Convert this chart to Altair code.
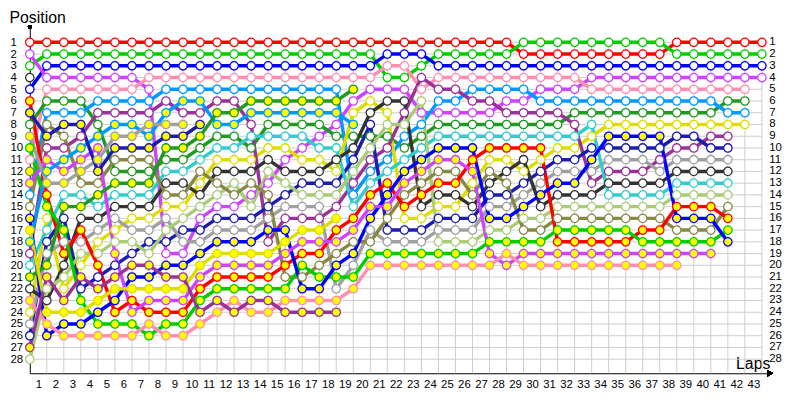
import altair as alt
import pandas as pd

# ---- driver identities (colour groups) ----
drivers = ["R1", "G1", "B1", "V1", "P1", "DG1", "S1", "Y1", "PU1", "DB1", "GR1", "DK1", "C1", "LG1",
           "O1", "R2", "G2", "B2", "V2", "P2", "S2", "DG2", "Y2", "PU2", "GR2", "DB2", "DK2", "O2"]
line_colors = ["#FF0000", "#00CC00", "#0000FF", "#CC44FF", "#FF8FB0", "#229922", "#0099FF", "#DDDD00",
               "#993399", "#1C1CAE", "#A0A0A0", "#333333", "#33CCCC", "#AACC77",
               "#888844", "#FF0000", "#00CC00", "#0000FF", "#CC44FF", "#FF8FB0", "#0099FF", "#229922",
               "#DDDD00", "#993399", "#A0A0A0", "#1C1CAE", "#333333", "#888844"]
marker_fills = ["#FFFFFF"] * 15 + ["#FFFF00"] * 10 + ["#FFFF00", "#FFFFFF", "#FFFF00"]

# ---- positions per lap (lap 0 = grid) ----
pos_R1 = [1,1,1,1,1,1,1,1,1,1, 1,1,1,1,1,1,1,1,1,1, 1,1,1,1,1,1,1,1,1, 2,2,2,2,2,2,2,2,2, 1,1,1,1,1,1]
pos_G1 = [3,2,2,2,2,2,2,2,2,2, 2,2,2,2,2,2,2,2,2,2, 2,4,4,3,2,2,2,2,2, 1,1,1,1,1,1,1,1,1, 2,2,2,2,2,2]
pos_B1 = [5,3,3,3,3,3,3,3,3,3, 3,3,3,3,3,3,3,3,3,3, 3,2,2,2,3,3,3,3,3,3, 3,3,3,3,3,3,3,3,3,3, 3,3,3,3]
pos_V1 = [2,4,4,4,4,4,4,5,19,19, 16,15,15,14,13,11,10,9,8,6, 5,5,5,7,7,7,7,7,6,6, 5,5,5,4,4,4,4,4,4,4, 4,4,4,4]
pos_P1 = [11,5,5,5,5,5,5,4,4,4, 4,4,4,4,4,4,4,4,4,4, 4,3,3,5,4,4,4,4,4,4, 4,4,4,5,5,5,5,5,5,5, 5,5,5]
pos_DG1 = [8,6,6,6,8,12,12,12,11,11, 10,9,9,10,8,8,8,8,9,9, 9,9,10,9,8,8,8,8,8,8, 8,8,7,7,7,7,7,7,7,7, 7,6,6]
pos_S1 = [14,7,7,7,6,6,6,6,5,5, 5,5,5,5,5,5,5,5,5,14, 12,11,9,8,6,6,5,5,5,5, 6,6,6,6,6,6,6,6,6,6, 6,7,7]
pos_Y1 = [24,16,22,20,18,17,16,16,15,15, 13,11,11,11,10,10,11,11,12,7, 6,7,16,16,15,15,13,11,11,12, 11,10,10,9,8,8,8,8,8,8, 8,8,8]
pos_PU1 = [19,10,10,9,7,7,7,7,6,7, 7,6,6,8,18,16,16,16,15,13, 11,10,7,4,5,5,6,6,7,7, 7,7,8,13,12,12,12,11,10,10, 9,9]
pos_DB1 = [26,18,16,22,21,20,19,18,18,17, 17,16,16,16,15,14,13,13,13,11, 8,17,17,17,16,16,16,14,14,13, 12,11,11,10,10,10,10,10,9,9, 10,10]
pos_GR1 = [25,19,18,18,17,16,17,17,16,18, 18,17,17,17,16,15,15,15,22,20, 17,18,18,18,17,17,17,15,15,14, 13,12,12,12,11,11,11,12,11,11, 11,11]
pos_DK1 = [22,23,20,16,16,15,15,15,13,13, 14,12,12,12,11,12,12,12,11,10, 7,6,6,15,14,14,15,13,12,11, 15,14,14,14,13,13,13,13,12,12, 12,12]
pos_C1 = [20,17,14,14,15,14,14,14,12,12, 11,10,10,9,9,9,9,10,10,15, 13,12,11,10,9,9,9,9,9,9, 9,9,9,8,14,14,14,14,13,13, 13,13]
pos_LG1 = [28,22,21,19,19,18,18,19,17,16, 15,14,13,15,12,13,14,14,14,12, 10,8,8,6,18,18,18,17,17,16, 16,15,15,15,15,15,15,15,14,14, 14,14]
pos_O1 = [15,8,9,13,13,11,11,11,14,14, 12,13,14,13,14,21,21,20,19,18, 18,16,14,13,12,12,14,12,13,17, 17,16,16,16,16,16,16,16,17,17, 17,15]
pos_R2 = [6,14,19,17,20,24,23,24,24,24, 22,21,21,21,21,20,19,19,17,16, 14,13,15,14,13,13,11,10,10,10, 10,18,18,18,18,18,17,17,15,15, 15,16]
pos_G2 = [10,15,17,23,25,25,25,26,25,25, 23,22,22,22,22,22,20,21,21,21, 19,19,19,19,19,19,19,18,18,18, 18,17,17,17,17,17,18,18,18,18, 18,17]
pos_B2 = [16,26,25,25,24,23,21,21,20,20, 19,18,18,18,17,17,22,22,20,19, 16,14,12,11,10,10,10,16,16,15, 14,13,13,11,9,9,9,9,16,16, 16,18]
pos_V2 = [13,11,12,11,10,19,24,23,23,23, 21,20,20,20,20,19,18,18,18,17, 15,15,13,12,11,11,12,19,20,19, 19,19,19,19,19,19,19,19,19,19, 19]
pos_P2 = [23,25,26,26,26,26,26,25,26,26, 25,24,23,24,24,23,23,23,23,22, 20,20,20,20,20,20,20,20,19,20, 20,20,20,20,20,20,20,20,20]
pos_S2 = [18,12,11,10,9,8,8,9,7,6, 6,8,8,7,7,7,7,7,7,8]
pos_DG2 = [21,20,15,15,14,13,13,13,10,10, 9,7,7,6,6,6,6,6,6,5]
pos_Y2 = [17,24,24,24,23,22,22,22,22,22, 20,19,19,19,19,18,17,17,16]
pos_PU2 = [27,21,23,21,22,21,20,20,21,21, 24,23,24,23,23,24,24,24,24]
pos_GR2 = [9,13,13,12,11,9,9,8,8,8]
pos_DB2 = [7,9,8,8,12,10,10,10,9,9,8]
pos_DK2 = [4]
pos_O2 = [12]

all_positions = [pos_R1, pos_G1, pos_B1, pos_V1, pos_P1, pos_DG1, pos_S1, pos_Y1, pos_PU1, pos_DB1,
                 pos_GR1, pos_DK1, pos_C1, pos_LG1, pos_O1, pos_R2, pos_G2, pos_B2, pos_V2, pos_P2,
                 pos_S2, pos_DG2, pos_Y2, pos_PU2, pos_GR2, pos_DB2, pos_DK2, pos_O2]

lap_labels = list(range(1, 44))
position_labels = list(range(1, 29))

rows = []
for k, (d, plist) in enumerate(zip(drivers, all_positions)):
    for lap, p in enumerate(plist):
        rows.append({"driver": d, "rank": len(drivers) - k, "lap": lap, "pos": p,
                     "col": line_colors[k], "fillc": marker_fills[k]})
df = pd.DataFrame(rows)

W, H = 748, 350
FONT = "Liberation Sans"
xs = alt.Scale(domain=[0, 43.488], nice=False, zero=False)
ys = alt.Scale(domain=[-0.325, 29.2], nice=False, zero=False, reverse=True)

xaxis = alt.Axis(values=[v - 0.5 for v in lap_labels], labelExpr="datum.value + 0.5",
                 ticks=False, grid=False, domainColor="black", domainWidth=1,
                 labelFont=FONT, labelFontSize=11.5, labelColor="black", labelPadding=5,
                 labelOverlap=False, labelFlush=False, labelBound=False,
                 title="Laps", titleFont=FONT, titleFontSize=16, titleFontWeight="normal",
                 titleColor="black", titleX=713, titleY=-5, titleAlign="left",
                 titleBaseline="alphabetic", titleAnchor="start")
yaxis = alt.Axis(values=position_labels, ticks=False, grid=False, domainColor="black", domainWidth=1,
                 labelFont=FONT, labelFontSize=11.5, labelColor="black", labelAlign="left",
                 labelBaseline="middle", labelPadding=20, labelOverlap=False, labelFlush=False,
                 labelBound=False,
                 title="Position", titleFont=FONT, titleFontSize=16, titleFontWeight="normal",
                 titleColor="black", titleAngle=0, titleX=-21, titleY=-4, titleAlign="left",
                 titleBaseline="alphabetic", titleAnchor="start")

hgrid_df = pd.DataFrame({"pos": position_labels, "lap": [0] * 28, "lap_end": [43] * 28})
vgrid_df = pd.DataFrame({"lap": lap_labels, "pos": [1] * 43, "pos_end": [29.2] * 43})
label_df = pd.DataFrame({"pos": position_labels, "txt": [str(p) for p in position_labels]})

hgrid = alt.Chart(hgrid_df).mark_rule(color="#CCCCCC", strokeWidth=1).encode(
    x=alt.X("lap:Q", scale=xs, axis=xaxis), x2="lap_end:Q",
    y=alt.Y("pos:Q", scale=ys, axis=yaxis))
vgrid = alt.Chart(vgrid_df).mark_rule(color="#CCCCCC", strokeWidth=1).encode(
    x=alt.X("lap:Q", scale=xs, axis=xaxis),
    y=alt.Y("pos:Q", scale=ys, axis=yaxis), y2="pos_end:Q")

lines = alt.Chart(df).mark_line(strokeWidth=3.5, strokeJoin="round").encode(
    x=alt.X("lap:Q", scale=xs, axis=xaxis),
    y=alt.Y("pos:Q", scale=ys, axis=yaxis),
    detail="driver:N",
    color=alt.Color("col:N", scale=None),
    order="lap:Q")

points = alt.Chart(df).mark_point(filled=True, shape="circle", size=72, strokeWidth=1.3,
                                  opacity=1, fillOpacity=1).encode(
    x=alt.X("lap:Q", scale=xs, axis=xaxis),
    y=alt.Y("pos:Q", scale=ys, axis=yaxis),
    fill=alt.Fill("fillc:N", scale=None),
    stroke=alt.Stroke("col:N", scale=None))

right_labels = alt.Chart(label_df).mark_text(align="left", baseline="middle", font=FONT,
                                             fontSize=11.5, color="black").encode(
    x=alt.value(747),
    y=alt.Y("pos:Q", scale=ys, axis=yaxis),
    text="txt:N")

arrow = alt.Chart(label_df).mark_point(shape="triangle-right", filled=True, color="black",
                                       size=40, opacity=1).encode(
    x=alt.value(W), y=alt.value(H))
top_dot = alt.Chart(label_df).mark_point(shape="circle", filled=True, color="black",
                                         size=14, opacity=1).encode(
    x=alt.value(0), y=alt.value(0))

chart = alt.layer(hgrid, vgrid, lines, points, right_labels, arrow, top_dot).properties(
    width=W, height=H,
    autosize=alt.AutoSizeParams(type="none"),
    padding={"left": 22, "top": 17, "right": 22, "bottom": 23},
    background="white",
).configure_view(stroke=None)

chart.save("out.html", embed_options={"renderer": "svg", "actions": False})
